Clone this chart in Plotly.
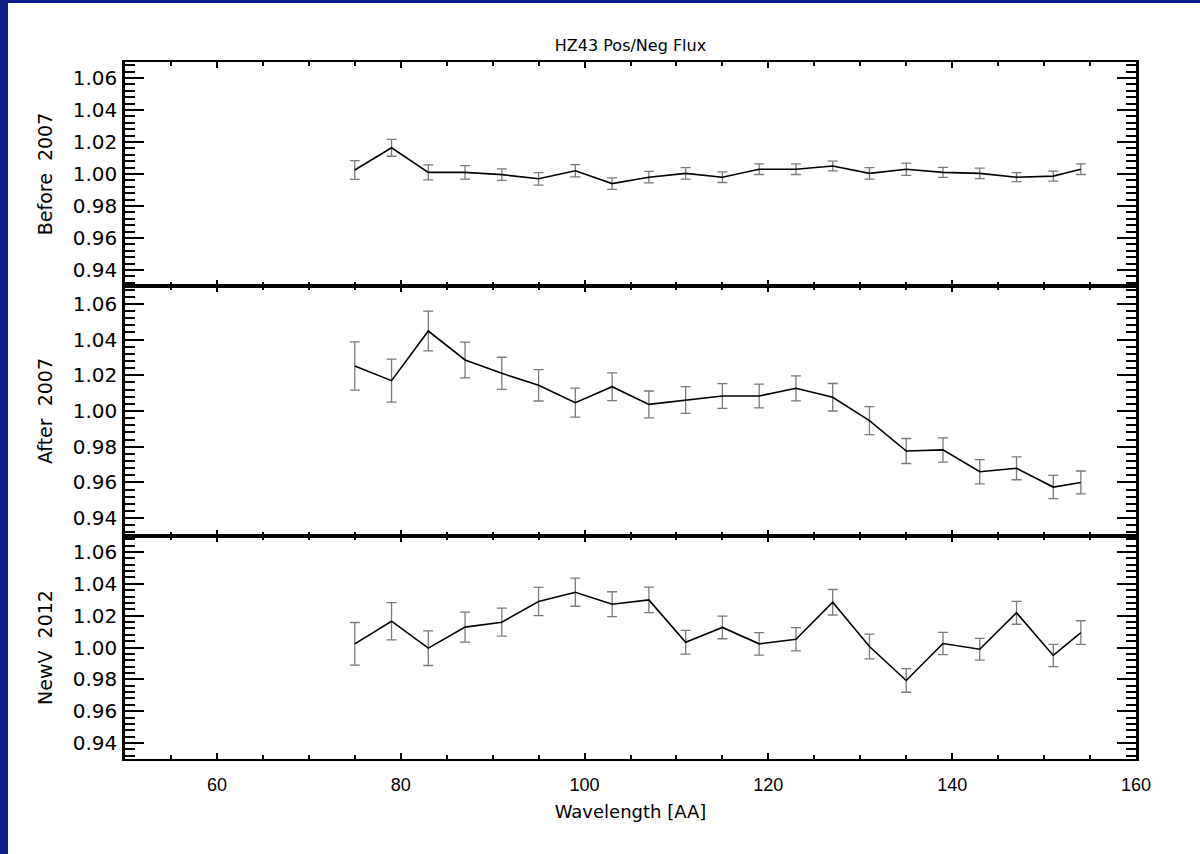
import plotly.graph_objects as go
from plotly.subplots import make_subplots

# wavelength grid [AA]
wave = [75, 79, 83, 87, 91, 95, 99, 103, 107, 111, 115,
        119, 123, 127, 131, 135, 139, 143, 147, 151, 154]

# Pos/Neg flux ratio, before 2007
before = [1.0025, 1.0164, 1.001, 1.001, 0.9996, 0.997, 1.002, 0.994, 0.998, 1.0004, 0.998,
          1.003, 1.003, 1.005, 1.0004, 1.003, 1.001, 1.0004, 0.998, 0.9987, 1.003]
before_err = [0.0058, 0.0053, 0.0047, 0.0042, 0.0036, 0.0039, 0.0038, 0.0036, 0.0036, 0.0036, 0.0033,
              0.0033, 0.0033, 0.0031, 0.0036, 0.0038, 0.0031, 0.0033, 0.0028, 0.0031, 0.0033]

# after 2007
after = [1.0252, 1.017, 1.0448, 1.0286, 1.0211, 1.0144, 1.0047, 1.0136, 1.0037, 1.0062, 1.0084,
         1.0084, 1.0127, 1.0077, 0.9946, 0.9776, 0.9782, 0.966, 0.9679, 0.9574, 0.960]
after_err = [0.0135, 0.012, 0.0111, 0.010, 0.009, 0.0088, 0.0081, 0.0078, 0.0075, 0.0075, 0.0069,
             0.0066, 0.007, 0.0077, 0.0078, 0.007, 0.0068, 0.0068, 0.0064, 0.0065, 0.0064]

# new voltage 2012
newv = [1.0023, 1.0165, 0.9996, 1.0128, 1.0159, 1.0289, 1.0347, 1.0272, 1.0299, 1.0033, 1.0126,
        1.0023, 1.0052, 1.0284, 1.0006, 0.9793, 1.0025, 0.9989, 1.0218, 0.995, 1.0094]
newv_err = [0.0134, 0.0117, 0.0109, 0.0094, 0.0088, 0.0089, 0.0088, 0.0078, 0.008, 0.0074, 0.0071,
            0.0071, 0.0073, 0.008, 0.0078, 0.0074, 0.007, 0.0068, 0.0072, 0.007, 0.0074]

panels = [("Before  2007", before, before_err),
          ("After  2007", after, after_err),
          ("NewV  2012", newv, newv_err)]

wide = "DejaVu Sans, Verdana, sans-serif"
narrow = "Liberation Sans, Arial, Helvetica, sans-serif"

fig = make_subplots(rows=3, cols=1, shared_xaxes=True, vertical_spacing=0,
                    row_heights=[224, 250, 223])

for i, (name, vals, errs) in enumerate(panels):
    r = i + 1
    fig.add_hline(y=1.0, line=dict(color="#8a8a8a", width=1.3, dash="1.5px,5px"), row=r, col=1)
    fig.add_trace(go.Scatter(x=wave, y=vals, mode="lines",
                             line=dict(color="black", width=1.6),
                             error_y=dict(type="data", array=errs, color="#7a7a7a",
                                          thickness=1.3, width=5),
                             showlegend=False), row=r, col=1)
    fig.update_yaxes(range=[0.93, 1.07], tick0=0.94, dtick=0.02, tickformat=".2f",
                     ticks="inside", ticklen=19, tickwidth=2, tickcolor="black",
                     minor=dict(dtick=0.004, tick0=0.94, ticks="inside", ticklen=10,
                                tickwidth=1.5, tickcolor="black"),
                     showline=True, linewidth=2.5, linecolor="black", mirror="ticks",
                     showgrid=False, zeroline=False, automargin=False,
                     ticklabelstandoff=1,
                     tickfont=dict(family=wide, size=20, color="black"),
                     title=dict(text=name, font=dict(family=wide, size=19, color="black"),
                                standoff=16),
                     row=r, col=1)
    fig.update_xaxes(range=[50, 160], tick0=60, dtick=20,
                     ticks="inside", ticklen=6, tickwidth=2, tickcolor="black",
                     minor=dict(dtick=5, ticks="inside", ticklen=4, tickwidth=1.5,
                                tickcolor="black"),
                     showline=True, linewidth=2, linecolor="black", mirror="ticks",
                     showgrid=False, zeroline=False, automargin=False,
                     tickfont=dict(family=narrow, size=18, color="black"),
                     row=r, col=1)

fig.update_xaxes(showticklabels=True, ticklabelstandoff=8,
                 title=dict(text="Wavelength [AA]", standoff=12,
                            font=dict(family=wide, size=18, color="black")),
                 row=3, col=1)

# blue slide border (left and top strips)
W, H = 1200, 854
ml, mr, mt, mb = 125, 64, 62, 95
pw, ph = W - ml - mr, H - mt - mb


def px_x(x):
    return (x - ml) / pw


def px_y(y):
    return (H - mb - y) / ph


fig.add_shape(type="rect", xref="paper", yref="paper",
              x0=px_x(0), x1=px_x(8), y0=px_y(H), y1=px_y(0),
              fillcolor="#0c1e8c", line_width=0, layer="below")
fig.add_shape(type="rect", xref="paper", yref="paper",
              x0=px_x(0), x1=px_x(W), y0=px_y(3), y1=px_y(0),
              fillcolor="#0c1e8c", line_width=0, layer="below")

fig.update_layout(
    width=W, height=H,
    margin=dict(l=ml, r=mr, t=mt, b=mb, autoexpand=False),
    paper_bgcolor="white", plot_bgcolor="white",
    title=dict(text="HZ43 Pos/Neg Flux", x=0.5, xref="paper", y=1 - 45 / H,
               yanchor="middle", font=dict(family=wide, size=16, color="black")),
    showlegend=False,
)

# drop the default page margin so the figure sits at the window corner
fig.write_html("out.html", config={"displayModeBar": False},
               post_script="document.body.style.margin='0';document.body.style.overflow='hidden';")
